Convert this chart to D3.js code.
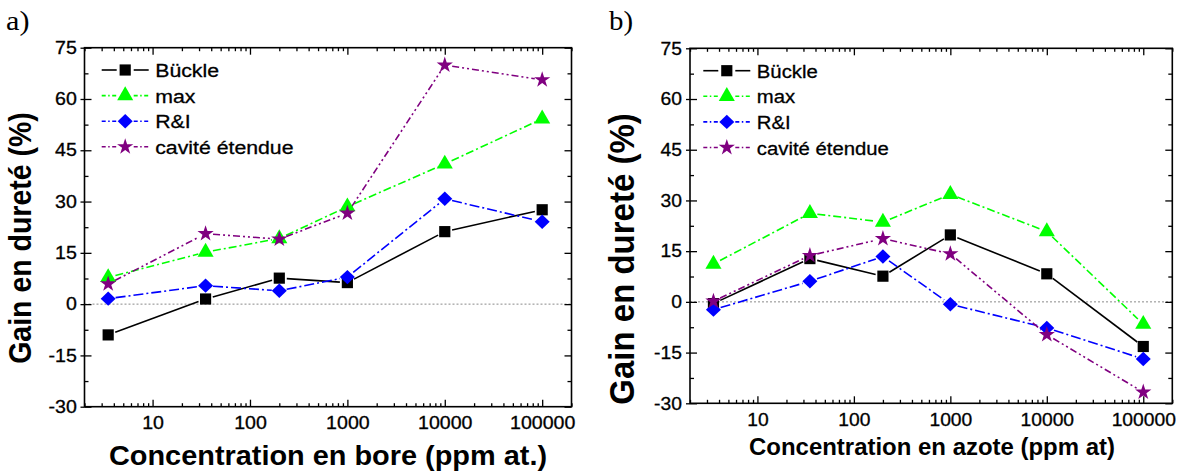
<!DOCTYPE html>
<html><head><meta charset="utf-8">
<script src="https://cdn.jsdelivr.net/npm/d3@7"></script>
<style>body{margin:0;background:#fff}svg{display:block}</style>
</head><body>
<svg id="chart" width="1182" height="476"></svg>
<script>
// ---- data ----
const concentrations = [3.5, 35, 200, 1000, 10000, 100000];
const seriesNames = ["Bückle", "max", "R&I", "cavité étendue"];
const boreBuckle = [-9, 1.5, 7.6, 6.3, 21.2, 27.6];
const boreMax = [7.8, 15.2, 19.2, 28.5, 41, 54.2];
const boreRI = [1.6, 5.4, 3.9, 7.9, 30.8, 24.1];
const boreCavite = [5.9, 20.6, 19, 26.6, 69.9, 65.6];
const azoteBuckle = [-0.5, 12.8, 7.6, 19.8, 8.3, -13.2];
const azoteMax = [11.2, 26.2, 23.6, 31.8, 20.8, -6.6];
const azoteRI = [-2.3, 6.1, 13.4, -0.7, -7.7, -16.9];
const azoteCavite = [0.2, 13.7, 18.7, 14.2, -9.7, -26.7];
const yTicks = [-30, -15, 0, 15, 30, 45, 60, 75];
const yTickLabels = ["-30", "-15", "0", "15", "30", "45", "60", "75"];
const xTickValues = [10, 100, 1000, 10000, 100000];
const xTickLabels = ["10", "100", "1000", "10000", "100000"];

const svg = d3.select("#chart");
const SANS = "'Liberation Sans', Arial, sans-serif";

const styles = [
  {color: "#000000", dash: null, symbol: "square"},
  {color: "#00ff00", dash: "8,3,2,3", symbol: "triangle"},
  {color: "#0000ff", dash: "10,3,2,3", symbol: "diamond"},
  {color: "#800080", dash: "7,3,2,3,2,3", symbol: "star"}
];

const diamond = {draw(ctx){ const w=7.5, h=7.2; ctx.moveTo(0,-h); ctx.lineTo(w,0); ctx.lineTo(0,h); ctx.lineTo(-w,0); ctx.closePath(); }};
function symPath(kind){
  if (kind === "square") return d3.symbol(d3.symbolSquare, 125)();
  if (kind === "triangle") return d3.symbol(d3.symbolTriangle, 112)();
  if (kind === "diamond") return d3.symbol(diamond, 1)();
  return d3.symbol(d3.symbolStar, 82)();
}

function panel(cfg){
  const g = svg.append("g");
  const x = d3.scaleLog().domain([2, 200000]).range([cfg.left, cfg.right]);
  const y = d3.scaleLinear().domain([-30, 75]).range([cfg.bottom, cfg.top]);
  const sx = cfg.stretch;

  g.append("line").attr("x1", cfg.left).attr("x2", cfg.right)
    .attr("y1", y(0)).attr("y2", y(0))
    .attr("stroke", "#8a8a8a").attr("stroke-width", 1).attr("stroke-dasharray", "2,2");

  const minorX = [];
  for (let e = 0; e <= 5; e++) for (let m = 2; m <= 9; m++) { const v = m * Math.pow(10, e); if (v >= 2 && v <= 200000) minorX.push(v); }
  const minorY = d3.range(-30, 75.1, 7.5).filter(v => !yTicks.includes(v));

  g.append("g").attr("transform", `translate(0,${cfg.bottom})`)
    .call(d3.axisBottom(x).tickValues(xTickValues).tickFormat((d,i)=>xTickLabels[i]).tickSizeInner(-7).tickSizeOuter(0).tickPadding(cfg.xPad));
  g.append("g").attr("transform", `translate(0,${cfg.top})`)
    .call(d3.axisTop(x).tickValues(xTickValues).tickFormat("").tickSizeInner(-7).tickSizeOuter(0));
  const gL = g.append("g").attr("transform", `translate(${cfg.left},0)`)
    .call(d3.axisLeft(y).tickValues(yTicks).tickFormat((d,i)=>yTickLabels[i]).tickSizeInner(-7).tickSizeOuter(0).tickPadding(cfg.yPad));
  g.append("g").attr("transform", `translate(${cfg.right},0)`)
    .call(d3.axisRight(y).tickValues(yTicks).tickFormat("").tickSizeInner(-7).tickSizeOuter(0));
  gL.selectAll(".tick").append("line").attr("x1", 0).attr("x2", -4);

  g.append("g").attr("transform", `translate(0,${cfg.bottom})`).call(d3.axisBottom(x).tickValues(minorX).tickFormat("").tickSizeInner(-3.5).tickSizeOuter(0));
  g.append("g").attr("transform", `translate(0,${cfg.top})`).call(d3.axisTop(x).tickValues(minorX).tickFormat("").tickSizeInner(-3.5).tickSizeOuter(0));
  g.append("g").attr("transform", `translate(${cfg.left},0)`).call(d3.axisLeft(y).tickValues(minorY).tickFormat("").tickSizeInner(-4).tickSizeOuter(0));
  g.append("g").attr("transform", `translate(${cfg.right},0)`).call(d3.axisRight(y).tickValues(minorY).tickFormat("").tickSizeInner(-4).tickSizeOuter(0));

  g.selectAll(".domain").remove();
  g.selectAll(".tick line").attr("stroke", "#000").attr("stroke-width", 1.3);
  g.selectAll(".tick text").attr("font-family", SANS).attr("font-size", cfg.tickSize)
    .attr("fill", "#000").attr("stroke", "#000").attr("stroke-width", 0.3)
    .attr("transform", `scale(${sx},1)`);

  g.append("rect").attr("x", cfg.left).attr("y", cfg.top)
    .attr("width", cfg.right - cfg.left).attr("height", cfg.bottom - cfg.top)
    .attr("fill", "none").attr("stroke", "#000").attr("stroke-width", 1.6);

  const gap = 7.5;
  cfg.series.forEach((vals, si) => {
    const st = styles[si];
    const pts = concentrations.map((c, i) => [x(c), y(vals[i])]);
    for (let i = 0; i < pts.length - 1; i++) {
      const [x0, y0] = pts[i], [x1, y1] = pts[i+1];
      const L = Math.hypot(x1 - x0, y1 - y0);
      if (L <= 2 * gap) continue;
      const ux = (x1 - x0) / L, uy = (y1 - y0) / L;
      g.append("line")
        .attr("x1", x0 + ux * gap).attr("y1", y0 + uy * gap)
        .attr("x2", x1 - ux * gap).attr("y2", y1 - uy * gap)
        .attr("stroke", st.color).attr("stroke-width", 1.6)
        .attr("stroke-dasharray", st.dash);
    }
  });
  cfg.series.forEach((vals, si) => {
    const st = styles[si];
    g.selectAll(null).data(concentrations).enter().append("path")
      .attr("d", symPath(st.symbol))
      .attr("transform", (c, i) => `translate(${x(c)},${y(vals[i])})`)
      .attr("fill", st.color);
  });

  seriesNames.forEach((name, si) => {
    const st = styles[si];
    const ly = cfg.legY + si * 25.6;
    const lg = g.append("g");
    [[cfg.legX, cfg.legX + 15], [cfg.legX + 32, cfg.legX + 47]].forEach(([a, b]) => {
      lg.append("line").attr("x1", a).attr("x2", b).attr("y1", ly).attr("y2", ly)
        .attr("stroke", st.color).attr("stroke-width", 1.6).attr("stroke-dasharray", st.dash ? "4,2.5,1.5,2.5" : null);
    });
    lg.append("path").attr("d", symPath(st.symbol)).attr("transform", `translate(${cfg.legX + 23.5},${ly})`).attr("fill", st.color);
    lg.append("text").attr("transform", `translate(${cfg.legX + 53.5},${ly + 7}) scale(${sx},1)`)
      .attr("font-family", SANS).attr("font-size", cfg.legSize)
      .attr("stroke", "#000").attr("stroke-width", 0.3).text(name);
  });

  g.append("text").attr("transform", `translate(${cfg.xtX},${cfg.xtY}) scale(${cfg.xtStretch},1)`).attr("text-anchor", "middle")
    .attr("font-family", SANS).attr("font-weight", "bold")
    .attr("font-size", cfg.xtSize).text(cfg.xTitle);
  g.append("text").attr("transform", `translate(${cfg.ytX},${cfg.ytY}) scale(${sx},1) rotate(-90)`).attr("text-anchor", "middle")
    .attr("font-family", SANS).attr("font-weight", "bold")
    .attr("font-size", cfg.ytSize).text("Gain en dureté (%)");
  g.append("text").attr("transform", `translate(${cfg.lblX},29.5) scale(${sx},1)`)
    .attr("font-family", "'Liberation Serif', 'Times New Roman', serif").attr("font-size", 27).text(cfg.label);
}

panel({left: 84.5, right: 571.5, top: 47.7, bottom: 406.7, stretch: 1.12,
  series: [boreBuckle, boreMax, boreRI, boreCavite],
  tickSize: 17.5, xPad: 10, yPad: 6.8,
  legX: 101.7, legY: 70, legSize: 19,
  xTitle: "Concentration en bore (ppm at.)", xtX: 328, xtY: 465, xtSize: 27, xtStretch: 1.07,
  ytX: 31, ytY: 238, ytSize: 28.5, label: "a)", lblX: 6});

panel({left: 690, right: 1172.3, top: 48.3, bottom: 403.3, stretch: 1.07,
  series: [azoteBuckle, azoteMax, azoteRI, azoteCavite],
  tickSize: 18, xPad: 10, yPad: 7.6,
  legX: 703.3, legY: 70.7, legSize: 19,
  xTitle: "Concentration en azote (ppm at)", xtX: 932, xtY: 455, xtSize: 23.5, xtStretch: 1.02,
  ytX: 634, ytY: 259, ytSize: 33, label: "b)", lblX: 609});
</script>
</body></html>
